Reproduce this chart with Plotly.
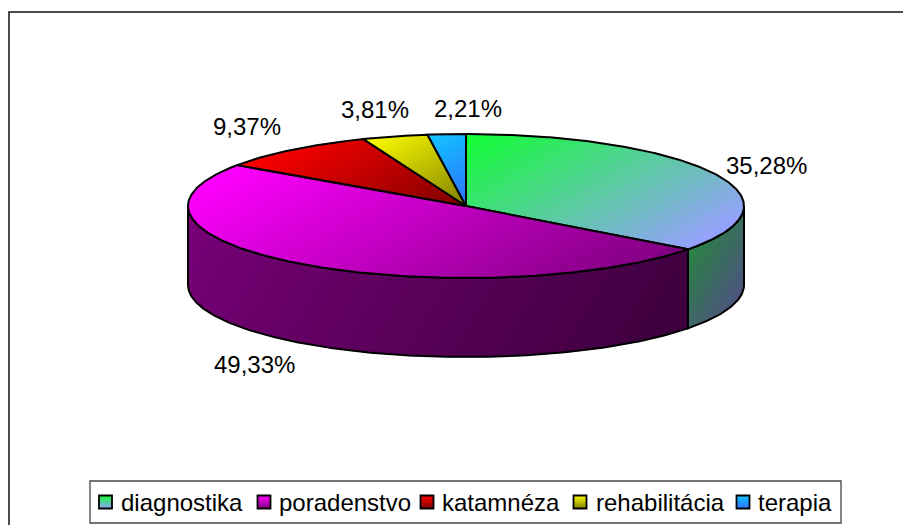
import plotly.graph_objects as go
import numpy as np

categories = ["diagnostika", "poradenstvo", "katamnéza", "rehabilitácia", "terapia"]
values = [35.28, 49.33, 9.37, 3.81, 2.21]
labels = ["35,28%", "49,33%", "9,37%", "3,81%", "2,21%"]
# gradient end colours (start, end) for top faces and rim
top_from = ["#10ff30", "#ff00ff", "#ff0000", "#ffff00", "#10c8ff"]
top_to = ["#98a0ff", "#800080", "#800000", "#808000", "#3070ff"]
side_from = ["#2a8440", "#780078", "#780000", "#787800", "#0a6080"]
side_to = ["#4c5480", "#3c003c", "#3c0000", "#3c3c00", "#183880"]
label_pos = [(766, 165), (254, 364), (247, 126), (375, 109), (468, 108)]
legend_marks = [105.5, 264, 427, 580, 743]
legend_text = [121, 279, 442, 596, 758]

W, H = 911, 525
PAGE = 8  # the page body starts 8 px in
CX, CY, RX, RY, DEPTH = 466, 206, 278, 72, 79


def rim(a0, a1, dz=0):
    t = np.radians(np.linspace(a0, a1, max(3, int((a1 - a0) * 2))))
    return CX + RX * np.sin(t), CY - RY * np.cos(t) + dz


def clip(pts, d, lim, keep_above):
    out = []
    n = len(pts)
    for i in range(n):
        p, q = pts[i], pts[(i + 1) % n]
        sp, sq = p @ d - lim, q @ d - lim
        if not keep_above:
            sp, sq = -sp, -sq
        if sp >= 0:
            out.append(p)
        if sp * sq < 0:
            out.append(p + (q - p) * sp / (sp - sq))
    return np.array(out) if out else np.empty((0, 2))


def hex2rgb(h):
    return np.array([int(h[i:i + 2], 16) for i in (1, 3, 5)], float)


fig = go.Figure()


def face(xs, ys, c0, c1, direction=(0.5, 0.87), bands=26):
    pts = np.column_stack([xs, ys])
    d = np.array(direction, float)
    d /= np.linalg.norm(d)
    s = pts @ d
    lo, hi = s.min(), s.max()
    edges = np.linspace(lo, hi, bands + 1)
    a, b = hex2rgb(c0), hex2rgb(c1)
    for i in range(bands):
        poly = clip(clip(pts, d, edges[i] - 0.4, True), d, edges[i + 1] + 0.4, False)
        if len(poly) < 3:
            continue
        c = a + (b - a) * (i + 0.5) / bands
        col = f"rgb({c[0]:.0f},{c[1]:.0f},{c[2]:.0f})"
        fig.add_trace(go.Scatter(x=np.r_[poly[:, 0], poly[0, 0]], y=np.r_[poly[:, 1], poly[0, 1]],
                                 mode="lines", fill="toself", fillcolor=col,
                                 line=dict(width=0.6, color=col), hoverinfo="skip", showlegend=False))
    fig.add_trace(go.Scatter(x=np.r_[xs, xs[0]], y=np.r_[ys, ys[0]], mode="lines",
                             line=dict(color="black", width=2), hoverinfo="skip", showlegend=False))


angles = np.r_[0, np.cumsum(values) / sum(values) * 360]

# rim walls of the front half
for i in [0, 1]:
    a0, a1 = angles[i], angles[i + 1]
    a0 = max(a0, 90)
    a1 = min(a1, 270)
    x1, y1 = rim(a0, a1)
    x2, y2 = rim(a0, a1, DEPTH)
    face(np.r_[x1, x2[::-1]], np.r_[y1, y2[::-1]], side_from[i], side_to[i], direction=(0.85, 0.5))

# top faces
for i in range(len(values)):
    x1, y1 = rim(angles[i], angles[i + 1])
    face(np.r_[CX, x1], np.r_[CY, y1], top_from[i], top_to[i])

# value labels
for t, (x, y) in zip(labels, label_pos):
    fig.add_annotation(x=x, y=y, text=t, showarrow=False, xanchor="center", yanchor="middle",
                       font=dict(family="Liberation Sans", size=24, color="black"))

# outer frame (runs off the right and bottom of the picture)
fig.add_shape(type="rect", x0=9, y0=12, x1=930, y1=560, line=dict(color="#111111", width=1.5), layer="below")

# legend
fig.add_shape(type="rect", x0=90, y0=481, x1=841, y1=523, line=dict(color="#444444", width=1.3),
              fillcolor="white", layer="below")
for name, a, b, mx, tx in zip(categories, top_from, top_to, legend_marks, legend_text):
    fig.add_annotation(x=tx, y=502, text=name, showarrow=False, xanchor="left", yanchor="middle",
                       xshift=-2, font=dict(family="Liberation Sans", size=24, color="black"))
    fig.add_trace(go.Scatter(x=[mx], y=[502], mode="markers", showlegend=False, hoverinfo="skip",
                             marker=dict(symbol="square", size=13, color=a,
                                         gradient=dict(type="vertical", color=b),
                                         line=dict(color="black", width=1.8))))

fig.update_layout(width=W - PAGE, height=H - PAGE, margin=dict(l=0, r=0, t=0, b=0),
                  paper_bgcolor="white", plot_bgcolor="white", showlegend=False,
                  xaxis=dict(range=[PAGE, W], visible=False, fixedrange=True),
                  yaxis=dict(range=[H, PAGE], visible=False, fixedrange=True))
fig.write_html("out.html", config=dict(displayModeBar=False))
